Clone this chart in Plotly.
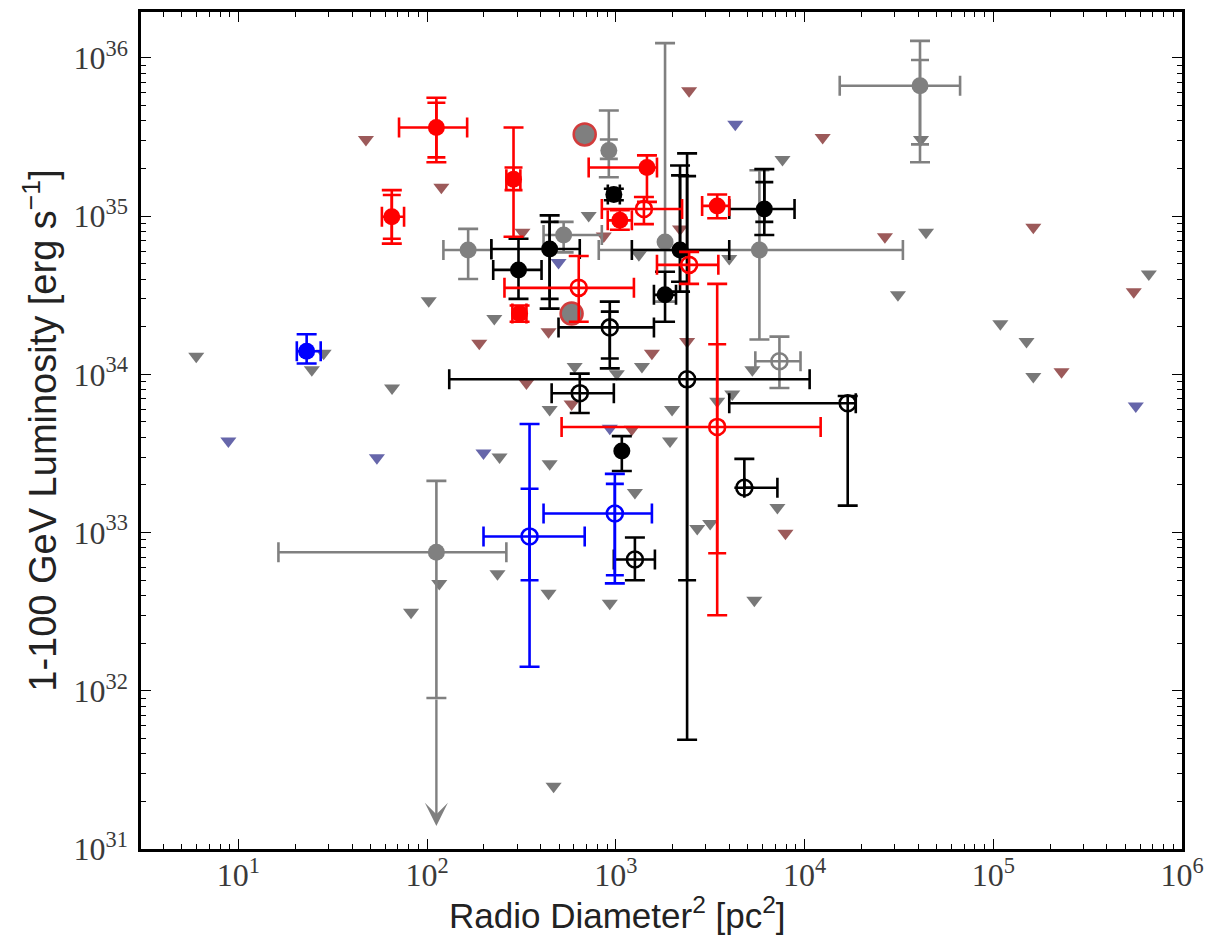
import numpy as np
import plotly.graph_objects as go

# Each row: x, y, x_lo, x_hi, y_lo, y_hi, y_lo_stat, y_hi_stat   (None = not measured)
red_filled = [
    (112, 3.63e35, 71, 163, 2.19e35, 5.6e35, 2.35e35, 5.2e35),
    (65, 9.9e34, 57.6, 75.5, 6.7e34, 1.46e35, 7.2e34, 1.36e35),
    (287, 1.71e35, 263, 312, 7.4e34, 3.63e35, 1.46e35, 2.03e35),
    (309, 2.42e34, 283, 336, 2.15e34, 2.72e34, None, None),
    (1462, 2.03e35, 718, 1652, 1.23e35, 2.42e35, None, None),
    (1050, 9.4e34, 906, 1216, 8.2e34, 1.09e35, None, None),
    (3444, 1.16e35, 2866, 3990, 9.7e34, 1.37e35, None, None),
]
red_open = [
    (1409, 1.11e35, 843, 2244, 8.9e34, 1.32e35, None, None),
    (636, 3.52e34, 257, 1247, 2.15e34, 5.6e34, None, None),
    (2445, 4.92e34, 1652, 3493, 3.73e34, 5.94e34, None, None),
    (3444, 4.65e33, 516, 12170, 3.0e32, 3.73e34, 7.4e32, 1.55e34),
]
blue_filled = [
    (23.0, 1.40e34, 20.4, 27.3, 1.17e34, 1.79e34, None, None),
]
blue_open = [
    (349, 9.45e32, 199, 684, 1.42e32, 4.85e33, 4.99e32, 1.89e33),
    (988, 1.32e33, 414, 1553, 4.77e32, 2.35e33, 5.37e32, 2.03e33),
]
black_filled = [
    (305, 4.57e34, 224, 404, 3.0e34, 7.2e34, None, None),
    (446, 6.2e34, 219, 644, 2.6e34, 1.01e35, 3.0e34, 9.2e34),
    (976, 1.37e35, 907, 1050, 1.26e35, 1.49e35, None, None),
    (2189, 6.1e34, 1216, 3990, 3.33e34, 2.09e35, 3.85e34, 1.81e35),
    (6120, 1.11e35, 3990, 8850, 7.6e34, 1.98e35, 9.2e34, 1.64e35),
    (1823, 3.18e34, 1592, 2084, 2.15e34, 4.45e34, None, None),
    (1076, 3.28e33, None, None, 2.45e33, 4.07e33, None, None),
]
black_open = [
    (929, 1.98e34, 497, 1592, 1.09e34, 2.88e34, 1.26e34, 2.49e34),
    (644, 7.6e33, 457, 976, 5.7e33, 1.01e34, None, None),
    (2386, 9.3e33, 131, 10640, 4.9e31, 2.49e35, 4.99e32, 1.79e35),
    (16930, 6.57e33, 3990, 18680, 1.48e33, 7.3e33, None, None),
    (4797, 1.92e33, 4797, 7180, 1.92e33, 2.92e33, None, None),
    (1262, 6.76e32, 976, 1611, 5.0e32, 9.3e32, None, None),
]
gray_filled = [
    (165, 6.1e34, 122, 219, 4.0e34, 8.3e34, None, None),
    (918, 2.6e35, None, None, 1.76e35, 4.65e35, 2.3e35, 3.05e35),
    (40900, 6.67e35, 15360, 66700, 2.19e35, 1.28e36, 2.84e35, 9.7e35),
    (529, 7.6e34, 414, 843, 5.9e34, 9.2e34, None, None),
    (1823, 6.86e34, None, None, 2.88e34, 1.24e36, None, None),
    (5765, 6.1e34, 812, 33200, 1.66e34, 1.95e35, None, None),
]
gray_open = [
    (7360, 1.21e34, 5485, 9520, 8.2e33, 1.73e34, None, None),
]
# upper-limit source: x, y, x_lo, x_hi, y_hi, y_limit_tick, y_arrow_tip
gray_arrow = [
    (112, 7.5e32, 16.3, 263, 2.12e33, 9.0e31, 1.4e31),
]
# overlapping red/gray detections without bars
gray_red_x = [684, 583]
gray_red_y = [3.28e35, 2.42e34]

# flux upper limits
gray_lim_x = [5.98, 65.2, 102, 227, 242, 236, 116, 82.2, 28.3, 24.5, 605, 1012,
              1375, 1986, 446, 1937, 446, 1262, 3444, 4140, 7180, 2700, 3162,
              31250, 5290, 440, 929, 5420, 468, 109000, 150000, 163000, 44000,
              667000, 7640, 718, 1325, 3990, 41400]
gray_lim_y = [1.30e34, 8.2e33, 2.92e34, 2.25e34, 3.0e33, 5.5e32, 4.77e32, 3.14e32,
              1.36e34, 1.07e34, 1.12e34, 1.01e34, 1.12e34, 6.0e33, 6.0e33, 3.79e33,
              2.72e33, 1.79e33, 6.76e33, 7.5e33, 1.44e33, 1.06e33, 1.14e33, 3.18e34,
              1.07e34, 4.13e32, 3.57e32, 3.73e32, 2.49e31, 2.09e34, 1.61e34, 9.7e33,
              7.9e34, 4.3e34, 2.28e35, 1.01e35, 5.7e34, 5.4e34, 3.05e35]
brown_lim_x = [47.4, 119, 189, 336, 320, 440, 1553, 2386, 1216, 583, 7920, 863,
               2189, 2445, 12470, 26660, 163000, 555000, 230000]
brown_lim_y = [3.05e35, 1.52e35, 1.57e34, 8.8e33, 7.9e34, 1.86e34, 1.36e34, 1.61e34,
               4.5e33, 6.5e33, 9.9e32, 7.5e34, 8.3e34, 6.2e35, 3.14e35, 7.4e34,
               8.5e34, 3.33e34, 1.04e34]
purple_lim_x = [8.85, 54.2, 199, 929, 497, 4295, 569000]
purple_lim_y = [3.79e33, 2.97e33, 3.18e33, 4.57e33, 5.1e34, 3.8e35, 6.3e33]

x_tick_vals = [1e1, 1e2, 1e3, 1e4, 1e5, 1e6]
x_tick_text = ["10<sup>%d</sup>" % k for k in range(1, 7)]
y_tick_vals = [1e31, 1e32, 1e33, 1e34, 1e35, 1e36]
y_tick_text = ["10<sup>%d</sup>" % k for k in range(31, 37)]

RED, BLUE, BLACK, GRAY = "#ff0000", "#0000ff", "#000000", "#808080"


def nan(v):
    return np.nan if v is None else v


def bars(rows, color, filled, size=17, cap=10, stat_cap=9):
    """Marker with total error bars plus an inner set of caps for the statistical part."""
    x = np.array([r[0] for r in rows], float)
    y = np.array([r[1] for r in rows], float)
    xlo = np.array([nan(r[2]) for r in rows], float)
    xhi = np.array([nan(r[3]) for r in rows], float)
    ylo = np.array([nan(r[4]) for r in rows], float)
    yhi = np.array([nan(r[5]) for r in rows], float)
    if filled:
        marker = dict(symbol="circle", size=size, color=color, line=dict(width=0))
    else:
        marker = dict(symbol="circle-open", size=size - 1, color=color,
                      line=dict(width=2.6, color=color))
    out = [go.Scatter(
        x=x, y=y, mode="markers", marker=marker, showlegend=False, hoverinfo="skip",
        error_x=dict(type="data", symmetric=False, array=xhi - x, arrayminus=x - xlo,
                     color=color, thickness=2.6, width=cap),
        error_y=dict(type="data", symmetric=False, array=yhi - y, arrayminus=y - ylo,
                     color=color, thickness=2.6, width=cap),
    )]
    inner = [r for r in rows if r[6] is not None]
    if inner:
        xi = np.array([r[0] for r in inner], float)
        yi = np.array([r[1] for r in inner], float)
        lo = np.array([r[6] for r in inner], float)
        hi = np.array([r[7] for r in inner], float)
        out.append(go.Scatter(
            x=xi, y=yi, mode="markers", showlegend=False, hoverinfo="skip",
            marker=dict(size=1, color="rgba(0,0,0,0)"),
            error_y=dict(type="data", symmetric=False, array=hi - yi, arrayminus=yi - lo,
                         color=color, thickness=2.6, width=stat_cap),
        ))
    return out


fig = go.Figure()

# upper limits drawn underneath the detections
for xs, ys, col in [(gray_lim_x, gray_lim_y, "#787878"),
                    (brown_lim_x, brown_lim_y, "#9c5a5a"),
                    (purple_lim_x, purple_lim_y, "#6666aa")]:
    fig.add_trace(go.Scatter(x=xs, y=ys, mode="markers", showlegend=False,
                             hoverinfo="skip",
                             marker=dict(symbol="triangle-down", size=14, color=col,
                                         line=dict(width=0))))

# gray upper-limit point with downward arrow
ga = gray_arrow[0]
fig.add_trace(go.Scatter(
    x=[ga[0]], y=[ga[1]], mode="markers", showlegend=False, hoverinfo="skip",
    marker=dict(symbol="circle", size=17, color=GRAY),
    error_x=dict(type="data", symmetric=False, array=[ga[3] - ga[0]],
                 arrayminus=[ga[0] - ga[2]], color=GRAY, thickness=2.6, width=10),
    error_y=dict(type="data", symmetric=False, array=[ga[4] - ga[1]],
                 arrayminus=[ga[1] - ga[5]], color=GRAY, thickness=2.6, width=10),
))
fig.add_annotation(x=np.log10(ga[0]), y=np.log10(ga[6]), ax=np.log10(ga[0]),
                   ay=np.log10(ga[5]), xref="x", yref="y", axref="x", ayref="y",
                   text="", showarrow=True, arrowhead=3, arrowsize=1.6,
                   arrowwidth=2.4, arrowcolor=GRAY)

for tr in (bars(gray_filled, GRAY, True) + bars(gray_open, GRAY, False)):
    fig.add_trace(tr)

fig.add_trace(go.Scatter(x=gray_red_x, y=gray_red_y, mode="markers", showlegend=False,
                         hoverinfo="skip",
                         marker=dict(symbol="circle", size=22, color="#7f7f7f",
                                     line=dict(width=2.5, color="#d23c3c"))))

for tr in (bars(black_filled, BLACK, True) + bars(black_open, BLACK, False)
           + bars(red_filled, RED, True) + bars(red_open, RED, False)
           + bars(blue_filled, BLUE, True) + bars(blue_open, BLUE, False)):
    fig.add_trace(tr)


def minor_vals(lo, hi):
    return [m * 10.0 ** k for k in range(lo, hi) for m in range(2, 10)]


axis_common = dict(
    type="log", showgrid=False, zeroline=False, showline=True, linewidth=2.5,
    linecolor="black", mirror="ticks", ticks="inside", ticklen=10, tickwidth=1.3,
    tickcolor="black",
    tickfont=dict(family="Liberation Serif, DejaVu Serif, serif", size=32, color="#3a3a3a"),
)

title_font = dict(family="Liberation Sans, Arial, sans-serif", size=35, color="#222222")

fig.update_layout(
    width=1213, height=941,
    margin=dict(l=141, r=30, t=9, b=92),
    paper_bgcolor="white", plot_bgcolor="white",
    xaxis=dict(axis_common, range=[0.484, 6.0], tickvals=x_tick_vals,
               ticktext=x_tick_text, ticklabelstandoff=-4,
               minor=dict(ticks="inside", ticklen=5, tickwidth=1, tickcolor="black",
                          tickvals=minor_vals(0, 6), showgrid=False)),
    yaxis=dict(axis_common, range=[31.0, 36.29], tickvals=y_tick_vals,
               ticktext=y_tick_text, ticklabelstandoff=4,
               minor=dict(ticks="inside", ticklen=5, tickwidth=1, tickcolor="black",
                          tickvals=minor_vals(31, 37), showgrid=False),
               title=dict(text="1-100 GeV Luminosity [erg s<sup>\u22121</sup>]",
                          font=dict(title_font, size=38), standoff=6)),
)

# x-axis label, placed as a paper-anchored annotation
fig.add_annotation(text="Radio Diameter<sup>2</sup> [pc<sup>2</sup>]",
                   xref="paper", yref="paper", x=0.458, y=-0.077,
                   xanchor="center", yanchor="middle", showarrow=False,
                   font=title_font)

fig.write_html("out.html")
